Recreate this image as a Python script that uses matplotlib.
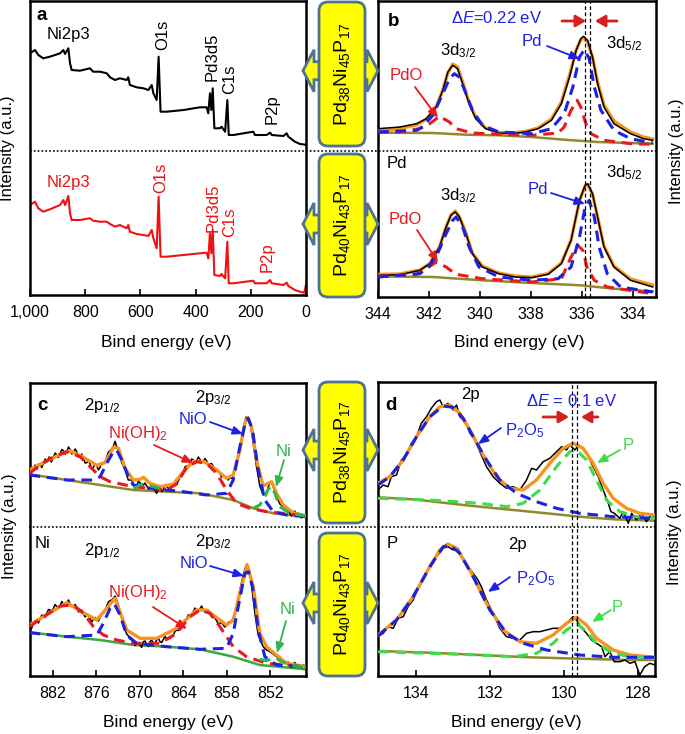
import numpy as np
import matplotlib
matplotlib.use('Agg')
import matplotlib.pyplot as plt
from matplotlib.patches import FancyBboxPatch, Polygon

plt.rcParams['font.family'] = ['Liberation Sans', 'DejaVu Sans']
plt.rcParams['mathtext.fontset'] = 'custom'
plt.rcParams['mathtext.rm'] = 'Liberation Sans'
plt.rcParams['mathtext.it'] = 'Liberation Sans:italic'
plt.rcParams['mathtext.bf'] = 'Liberation Sans:bold'

nan = np.nan

# ---- panel a: survey spectra (binding energy eV, intensity a.u.)
survey_e = [1000, 982, 970, 952, 928, 891, 879, 873, 861, 855, 849, 819, 783, 771, 746, 722, 710, 692,
            674, 650, 644, 638, 614, 589, 571, 559, 553, 541, 534, 527, 505, 444, 384, 360, 354, 348,
            343, 338, 332, 312, 306, 293, 285, 280, 263, 191, 185, 143, 130, 124, 82, 70, 64, 40, 22, 7, 0]
survey_top = [241.7, 245, 240, 236.7, 238.3, 241.7, 245, 241, 246.7, 231.7, 225, 224.3, 226.7, 223.3,
              223.3, 221.7, 217.7, 215, 216.7, 215, 217.7, 210, 207.7, 206.7, 205, 210, 201.7, 195,
              238.3, 183.3, 183.3, 185, 187.7, 187.7, 181.7, 201.7, 185, 206.7, 166.7, 166.7, 168.3,
              163.3, 195, 160, 160, 163.3, 160, 160, 162.3, 160, 159, 161.7, 158.3, 153.3, 151, 150.5, 150]
survey_bot = [90, 93.3, 86.7, 83.3, 85.7, 90, 95, 90, 99, 81.7, 75, 75, 76.7, 74.3, 73.3, 73.3, 71, 68.3,
              70, 66.7, 70, 63.3, 61, 60, 59, 65, 56.7, 46.7, 98.3, 38.3, 38.3, 40, 41.7, 42.3, 36.7,
              61.7, 41.7, 65, 20, 19, 21, 16.7, 53.3, 11.7, 11.7, 14.3, 11.7, 11.7, 15, 11.7, 10, 12.3,
              9, 5, 3.3, 2.3, 10]
survey_ticks = [1000, 800, 600, 400, 200, 0]
survey_ticklabels = ['1,000', '800', '600', '400', '200', '0']

# ---- panel b: Pd 3d
pd_top_e = [344.00, 343.14, 342.49, 342.10, 341.72, 341.46, 341.26, 341.07, 340.88, 340.68, 340.43,
            340.17, 339.78, 339.26, 338.75, 338.23, 337.72, 337.20, 336.81, 336.49, 336.23, 336.05,
            335.94, 335.78, 335.59, 335.39, 335.14, 334.75, 334.10, 333.59, 333.23]
pd_top_data = [168.3, 170, 173.3, 178.3, 190, 206.7, 225, 231.7, 228.3, 213.3, 193.3, 178.3, 168.3, 164,
               163.3, 165, 168.3, 176.7, 193.3, 220, 246.7, 258.3, 260.7, 256.7, 240, 213.3, 190, 173.3,
               163.3, 158.3, 156.7]
pd_top_fit = [166, 168.5, 172, 178, 190, 207, 224, 233, 230, 215, 195, 180, 169, 164.5, 164, 165.5, 169,
              178, 195, 222, 247, 257, 259, 255, 240, 215, 192, 176, 165, 160, 158]
pd_top_pd_e = [344.00, 342.49, 342.23, 341.85, 341.46, 341.20, 341.01, 340.81, 340.55, 340.30, 339.91,
               339.26, 337.97, 337.20, 336.70, 336.36, 336.10, 335.91, 335.72, 335.52, 335.26, 334.75,
               334.10, 333.23]
pd_top_pd = [165, 166.7, 170.7, 181.7, 203.3, 218.3, 223.3, 220, 203.3, 186.7, 171.7, 165, 163.3, 168.3,
             183.3, 210, 240, 247.3, 238.3, 210, 186.7, 166.7, 158.3, 154]
pd_top_pdo_e = [344.00, 343.14, 342.36, 341.97, 341.59, 341.20, 340.94, 340.30, 339.26, 337.97, 336.94,
                336.70, 336.43, 336.19, 336.05, 335.85, 335.65, 335.14, 334.10, 333.23]
pd_top_pdo = [165, 165, 168.3, 173.3, 180.7, 175, 168.3, 164, 162.7, 161.7, 164, 170, 186.7, 196.7, 190,
              173.3, 163.3, 156.7, 153.3, 152.7]
pd_top_bg_e = [344.00, 341.85, 340.55, 339.26, 337.97, 336.70, 335.39, 334.10, 333.23]
pd_top_bg = [164.3, 164, 162.3, 161.7, 160, 157.3, 155, 154, 153.3]

pd_bot_e = [344.00, 343.14, 342.36, 341.97, 341.59, 341.33, 341.14, 340.97, 340.81, 340.55, 340.30,
            339.91, 339.26, 338.62, 337.97, 337.33, 336.81, 336.43, 336.10, 335.88, 335.78, 335.59,
            335.39, 335.14, 334.75, 334.10, 333.23]
pd_bot_data = [21.7, 22.3, 26.7, 33.3, 50, 70, 81.7, 85, 80, 63.3, 43.3, 30, 23.3, 20, 19.3, 22.7, 33.3,
               56.7, 96.7, 111.7, 113.3, 103.3, 80, 50, 30, 16.7, 10]
pd_bot_fit = [22.5, 23, 27, 33.5, 50, 70, 82, 86, 80.5, 64, 44, 31, 24, 21, 20, 23.5, 34, 57, 96, 111,
              112.5, 103, 80, 51, 31, 18, 12]
pd_bot_pd_e = [344.00, 342.36, 342.10, 341.72, 341.33, 341.07, 340.94, 340.68, 340.43, 340.04, 339.26,
               337.97, 336.94, 336.43, 336.10, 335.88, 335.72, 335.52, 335.33, 335.01, 334.49, 333.23]
pd_bot_pd = [20, 23.3, 28.3, 40, 63.3, 76.7, 80, 70, 50, 30, 20, 16.7, 18.3, 30, 60, 90, 96.7, 80, 50,
             23.3, 10, 5]
pd_bot_pdo_e = [344.00, 342.49, 342.10, 341.72, 341.33, 340.94, 339.91, 337.97, 336.81, 336.43, 336.17,
                335.97, 335.81, 335.52, 335.01, 333.23]
pd_bot_pdo = [20.7, 22.7, 28.3, 35, 30, 22.7, 18.3, 15, 18.3, 40, 51.7, 46.7, 30, 16.7, 10, 3.3]
pd_bot_bg_e = [344.00, 341.85, 339.91, 337.97, 336.05, 334.75, 333.23]
pd_bot_bg = [20.7, 20, 16.7, 14, 11.7, 8.3, 5.7]
pd_ticks = [344, 342, 340, 338, 336, 334]
pd_shift_lines = [335.88, 335.67]

# ---- panel c: Ni 2p
ni_top_e = [885.2, 884.92, 884.65, 884.42, 884.19, 883.96, 883.73, 883.50, 883.27, 883.04, 882.81,
            882.5, 882.2, 881.90, 881.67, 881.44, 881.21, 880.98, 880.75, 880.52, 880.29, 880.06,
            879.83, 879.60, 879.37, 879.14, 878.91, 878.69, 878.46, 878.23, 878.00, 877.77, 877.54,
            877.31, 877.08, 876.85, 876.62, 876.39, 876.16, 875.93, 875.70, 875.47, 875.25, 875.02,
            874.79, 874.56, 874.33, 874.10, 873.87, 873.64, 873.41, 873.18, 872.95, 872.72, 872.49,
            872.26, 872.03, 871.81, 871.58, 871.35, 871.12, 870.89, 870.66, 870.43, 870.20, 869.97,
            869.74, 869.51, 869.28, 869.05, 868.82, 868.59, 868.37, 868.14, 867.91, 867.68, 867.45,
            867.22, 866.99, 866.76, 866.53, 866.30, 865.84, 865.38, 865.15, 864.92, 864.70, 864.47,
            864.24, 864.01, 863.78, 863.55, 863.32, 863.09, 862.86, 862.63, 862.40, 862.17, 861.94,
            861.71, 861.48, 861.26, 861.03, 860.80, 860.57, 860.34, 860.11, 859.88, 859.65, 859.42,
            859.19, 858.96, 858.73, 858.50, 858.27, 858.04, 857.81, 857.59, 857.36, 857.13, 856.67,
            856.21, 855.75, 855.38, 855.06, 854.74, 854.37, 853.92, 853.46, 853.00, 852.54, 852.08,
            851.62, 851.16, 850.70, 850.47, 850.24, 850.01, 849.79, 849.56, 849.33, 849.10, 848.87,
            848.64, 848.41, 848.18, 847.95, 847.72, 847.49, 847.13]
ni_top_data = [206, 203.5, 208.7, 211, 206.7, 212, 211, 208.5, 212.7, 217, 214.3, 219, 214, 218.7, 223,
               221, 218.5, 222, 226.5, 225.3, 221.5, 224.3, 229, 226.7, 222, 223.3, 227, 224.3, 219,
               220, 222, 217.7, 213, 213.3, 215.5, 212, 207.5, 208.7, 212, 210, 206, 208.7, 213.5,
               212.7, 214, 218.7, 224, 225.3, 227, 230, 234.7, 229.3, 227, 221, 213, 210, 207, 201,
               196, 196, 196, 192, 188, 190, 194.5, 193.3, 189.5, 191, 193, 190, 187, 188.7, 191,
               187.7, 185.5, 182.7, 186, 188.7, 184.5, 186, 190.5, 189.3, 187, 190, 194, 192.7, 195,
               198.7, 200, 204.3, 209, 210, 209.5, 212.7, 217, 216, 213, 215.3, 219, 216.7, 213, 214.3,
               217.5, 215.3, 211, 212, 212.5, 210, 206, 205.3, 205, 202.7, 199, 200, 199, 197.7, 196,
               198.7, 197.5, 201, 212.7, 229.3, 246, 258.7, 259.3, 251, 232.7, 209.3, 190, 181, 182.7,
               194.3, 190, 179.3, 172, 171, 167.7, 167.5, 164.3, 166, 162.7, 160, 162, 165, 160, 163,
               161, 158, 161.5, 159.3]
ni_top_fit_e = [885.2, 883.27, 881.44, 879.60, 877.77, 875.93, 874.79, 873.64, 872.95, 872.03, 870.89,
                869.97, 869.51, 868.59, 867.22, 865.38, 864.01, 862.63, 861.26, 859.88, 858.04, 857.13,
                856.21, 855.52, 855.15, 854.60, 853.92, 853.00, 852.31, 851.85, 851.16, 850.24, 848.87,
                847.13]
ni_top_fit = [206, 213.3, 220, 225.3, 218.7, 210.7, 213.3, 228.7, 227.7, 207.7, 196, 196.7, 198.7, 192.7,
              189.3, 192, 204.3, 214.3, 214.7, 208.7, 197.7, 201, 226, 252.7, 258.7, 249.3, 216, 190,
              192.7, 194.3, 182.7, 171, 163.3, 160]
ni_top_oh_e = [885.2, 883.73, 881.90, 880.06, 878.23, 876.85, 875.47, 874.10, 870.89, 866.30, 864.92,
               863.55, 862.17, 860.80, 859.42, 858.04, 856.67, 854.83, 852.54, 850.24, 847.13]
ni_top_oh = [202.7, 211, 219.3, 224.3, 219.3, 209.3, 199.3, 194.3, 189.3, 186, 192, 208.7, 214.3, 212.7,
             202.7, 186, 172.7, 167.7, 164.3, 162.7, 160]
ni_top_nio_e = [885.2, 880.06, 876.39, 875.47, 874.56, 873.64, 873.18, 872.49, 871.58, 870.89, 868.59,
                864.01, 860.80, 858.04, 857.13, 856.21, 855.38, 855.06, 854.47, 853.69, 852.77, 851.62,
                849.79, 847.13]
ni_top_nio = [201, 196, 196, 199.3, 212.7, 224.3, 226, 216, 199.3, 191, 187.7, 184.3, 181, 182.7, 196,
              229.3, 256, 257.7, 246, 206, 176, 164.3, 161, 159.3]
ni_top_ni_e = [870.89, 869.51, 868.14, 866.76, nan, 854.37, 853.46, 852.77, 852.31, 851.85, 851.39,
               850.70, 849.33, 847.13]
ni_top_ni = [187.7, 192, 189.3, 186.7, nan, 167.7, 171, 179.3, 186.7, 190, 182.7, 169.3, 162.7, 160]
ni_top_bg_e = [885.2, 880.06, 875.47, 870.89, 866.30, 861.71, 857.13, 854.37, 851.62, 847.13]
ni_top_bg = [201.7, 196, 191, 186, 184.3, 182.7, 176, 167.7, 162.7, 159.3]

ni_bot_e = [885.2, 884.92, 884.65, 884.42, 884.19, 883.96, 883.73, 883.50, 883.27, 883.04, 882.81,
            882.58, 882.36, 882.13, 881.90, 881.67, 881.44, 881.21, 880.98, 880.75, 880.52, 880.29,
            880.06, 879.83, 879.60, 879.37, 879.14, 878.91, 878.69, 878.46, 878.23, 878.00, 877.77,
            877.54, 877.31, 877.08, 876.85, 876.62, 876.39, 876.16, 875.93, 875.70, 875.47, 875.25,
            875.02, 874.79, 874.56, 874.33, 874.10, 873.87, 873.64, 873.41, 873.18, 872.95, 872.72,
            872.49, 872.26, 872.03, 871.81, 871.58, 871.35, 871.12, 870.89, 870.66, 870.43, 870.20,
            869.97, 869.74, 869.51, 869.28, 869.05, 868.82, 868.59, 868.37, 868.14, 867.91, 867.68,
            867.45, 867.22, 866.99, 866.76, 866.53, 866.30, 865.84, 865.38, 865.15, 864.92, 864.70,
            864.47, 864.24, 864.01, 863.78, 863.55, 863.32, 863.09, 862.86, 862.63, 862.40, 862.17,
            861.94, 861.71, 861.48, 861.26, 861.03, 860.80, 860.57, 860.34, 860.11, 859.88, 859.65,
            859.42, 859.19, 858.96, 858.73, 858.50, 858.27, 858.04, 857.81, 857.59, 857.36, 857.13,
            856.67, 856.21, 855.75, 855.38, 855.20, 854.83, 854.47, 854.14, 853.69, 853.00, 852.54,
            852.08, 851.62, 851.16, 850.70, 850.47, 850.24, 850.01, 849.79, 849.56, 849.33, 849.10,
            848.87, 848.64, 848.41, 848.18, 847.95, 847.72, 847.49, 847.13]
ni_bot_data = [49.3, 47.5, 52.7, 55.5, 54.3, 53, 57.7, 61, 60, 58.5, 62.7, 66.5, 66, 64, 67.7, 71.5,
               69.3, 68, 70.7, 74.5, 72, 70, 73.3, 76, 72, 69.5, 70, 71.5, 68, 64, 65.3, 66, 62.7, 59,
               61, 61, 57.7, 54, 56.7, 58.5, 56, 55, 58.7, 62, 62.7, 65, 70, 74, 75.3, 76, 77.7, 80,
               76, 71, 64, 57.7, 51, 46.7, 42, 40, 37, 36, 34, 30.5, 32.7, 33.5, 31, 28.5, 34.3, 35,
               31.7, 29.5, 34.3, 36, 32.7, 33, 36, 38, 34.3, 33.5, 36.7, 39.5, 37.7, 37.5, 41, 44.5,
               46, 45.5, 49.3, 53, 53.3, 55, 57.7, 61, 61, 62, 64.3, 68, 66, 65, 67.3, 70, 66, 64,
               65.3, 66, 62.7, 59.5, 58.7, 58, 55.3, 52, 52.7, 53.5, 51, 49, 51, 54, 52.7, 54, 57.7,
               69.3, 86, 101, 110, 112, 104.3, 82.7, 62.7, 41, 29.3, 26, 24.3, 22, 19.3, 16.7, 17.5,
               14.3, 15, 12.7, 14, 11, 9, 12, 13.5, 10, 11, 10.7, 8, 11, 10]
ni_bot_fit_e = [885.2, 880.06, 877.77, 875.93, 873.41, 871.81, 869.97, 867.68, 864.92, 862.17, 860.80,
                858.04, 857.13, 856.21, 855.20, 854.37, 853.46, 852.54, 851.16, 849.79, 847.13]
ni_bot_fit = [51, 73.3, 63.3, 56, 77.7, 46, 37.7, 37.7, 47.7, 66, 66, 51, 56, 82.7, 111, 89.3, 42.7,
              29.3, 21, 12.7, 9.3]
ni_bot_oh_e = [885.2, 883.27, 880.98, 879.14, 877.77, 876.39, 875.02, 873.18, 870.89, 867.22, 864.92,
               863.09, 861.71, 860.34, 858.96, 857.13, 855.29, 852.54, 847.13]
ni_bot_oh = [49.3, 59.3, 70, 71, 62.7, 49.3, 41, 36, 32.7, 32.7, 42.7, 59.3, 66, 62.7, 49.3, 29.3, 19.3,
             12.7, 9.3]
ni_bot_nio_e = [885.2, 880.06, 875.93, 875.02, 874.10, 873.50, 872.72, 871.81, 870.43, 866.30, 861.71,
                858.04, 857.13, 856.44, 855.52, 855.06, 854.47, 853.69, 852.77, 851.16, 847.13]
ni_bot_nio = [43.3, 39.3, 41, 52.7, 67.7, 72, 61, 41, 32.7, 29.3, 26.7, 27.7, 42.7, 69.3, 102.7, 104.3,
              89.3, 46, 19.3, 11, 9.3]
ni_bot_ni_e = [853.46, 852.54, 851.85, 851.16, 850.47, 849.33, 847.13]
ni_bot_ni = [16.7, 15.3, 17.3, 17.7, 14.3, 11, 8.7]
ni_bot_bg_e = [885.2, 880.06, 875.47, 870.89, 866.30, 861.71, 857.13, 853.46, 847.13]
ni_bot_bg = [43.7, 39.3, 36, 31, 29.3, 26.7, 19.3, 11, 6.7]
ni_ticks = [882, 876, 870, 864, 858, 852]

# ---- panel d: P 2p
p_top_e = [135.02, 134.88, 134.75, 134.66, 134.52, 134.39, 134.25, 134.12, 133.98, 133.85, 133.71,
           133.58, 133.44, 133.35, 133.26, 133.13, 132.99, 132.90, 132.81, 132.63, 132.54, 132.41,
           132.27, 132.09, 131.91, 131.73, 131.55, 131.37, 131.19, 131.01, 130.87, 130.74, 130.56,
           130.38, 130.20, 130.06, 129.93, 129.84, 129.70, 129.61, 129.48, 129.34, 129.21, 129.07,
           128.94, 128.80, 128.73, 128.64, 128.49, 128.40, 128.26, 128.17, 128.04, 127.91, 127.77,
           127.64, 127.54]
p_top_data = [186, 191, 189.3, 199.3, 201, 216, 221, 232.7, 239.3, 252.7, 259.3, 267.7, 274.3, 276,
              269.3, 272.7, 266, 271, 259.3, 252.7, 242.7, 237.7, 224.3, 209.3, 199.3, 192.7, 187.7,
              189.3, 186, 196, 207.7, 206, 214.3, 217.7, 224.3, 229.3, 226, 231, 226, 231, 227.7, 219.3,
              209.3, 199.3, 186, 172.7, 164.3, 162.7, 157.7, 164.3, 152.7, 162.7, 156, 162.7, 154.3,
              161, 159.3]
p_top_fit_e = [135.02, 134.70, 134.34, 133.98, 133.62, 133.35, 133.08, 132.81, 132.54, 132.18, 131.82,
               131.46, 131.10, 130.74, 130.38, 130.02, 129.75, 129.48, 129.21, 128.94, 128.67, 128.31,
               127.95, 127.54]
p_top_fit = [192.7, 199.3, 216, 239.3, 259.3, 269.3, 271, 262.7, 246, 221, 199.3, 187.7, 186, 196, 212.7,
             227.7, 232.7, 227.7, 212.7, 192.7, 177.7, 167.7, 162.7, 161]
p_top_ox_e = [135.02, 134.70, 134.34, 133.98, 133.62, 133.26, 132.99, 132.72, 132.45, 132.09, 131.73,
              131.28, 130.74, 130.20, 129.57, 128.67, 127.54]
p_top_ox = [191, 199.3, 216, 239.3, 259.3, 270, 268.7, 257.7, 239.3, 216, 196, 182.7, 174.3, 167.7,
            162.7, 159.3, 157.7]
p_top_p_e = [135.02, 133.62, 132.27, 131.55, 131.10, 130.65, 130.20, 129.84, 129.66, 129.39, 129.12,
             128.85, 128.49, 128.04, 127.54]
p_top_p = [177.7, 176, 172.7, 169.3, 172.7, 186, 209.3, 224.3, 226, 216, 196, 176, 164.3, 159.3, 157.7]
p_top_bg_e = [135.02, 134.07, 132.72, 131.37, 130.47, 129.57, 128.67, 127.54]
p_top_bg = [178.7, 176.7, 171, 166, 162.7, 159.3, 156.7, 155.3]

p_bot_e = [135.02, 134.88, 134.75, 134.61, 134.48, 134.34, 134.21, 134.07, 133.94, 133.80, 133.67,
           133.53, 133.40, 133.26, 133.13, 132.99, 132.86, 132.72, 132.59, 132.45, 132.32, 132.23,
           132.09, 131.91, 131.73, 131.55, 131.37, 131.19, 131.01, 130.83, 130.65, 130.47, 130.29,
           130.11, 129.93, 129.75, 129.66, 129.52, 129.39, 129.25, 129.12, 128.98, 128.89, 128.76,
           128.64, 128.49, 128.35, 128.22, 128.08, 127.95, 127.82, 127.68, 127.54]
p_bot_data = [39.3, 42.7, 49.3, 47.7, 57.7, 59.3, 69.3, 76, 87.7, 96, 106, 116, 121, 127.7, 129.3, 126,
              127.7, 116, 109.3, 102.7, 96, 89.3, 76, 62.7, 47.7, 39.3, 37.7, 36, 42.7, 44.3, 44.3, 46,
              47.7, 47.7, 52.7, 59.3, 56, 47.7, 42.7, 36, 32.7, 29.3, 19.3, 24.3, 14.3, 14.3, 16, 12.7,
              14.3, 1, 9.3, 12.7, 11]
p_bot_fit_e = [135.02, 134.52, 134.07, 133.62, 133.35, 133.13, 132.90, 132.54, 132.09, 131.64, 131.19,
               130.74, 130.29, 129.93, 129.66, 129.39, 129.12, 128.67, 128.22, 127.54]
p_bot_fit = [41, 56, 79.3, 109.3, 126, 132, 127.7, 106, 72.7, 46, 34.3, 32.7, 41, 52.7, 58.7, 51, 37.7,
             26, 21, 18.7]
p_bot_ox_e = [135.02, 134.52, 134.07, 133.62, 133.26, 133.08, 132.81, 132.45, 132.00, 131.55, 131.10,
              130.47, 129.57, 128.67, 127.54]
p_bot_ox = [40, 56, 79.3, 109.3, 129.3, 131, 122.7, 99.3, 66, 42.7, 32.7, 26, 21, 18.7, 18.7]
p_bot_p_e = [135.02, 133.62, 132.27, 131.37, 130.74, 130.29, 129.93, 129.66, 129.39, 129.12, 128.67,
             128.22, 127.54]
p_bot_p = [24.3, 22.7, 21, 19.3, 22.7, 32.7, 46, 52.7, 44.3, 32.7, 22.7, 19.3, 17.7]
p_bot_bg_e = [135.02, 133.62, 132.27, 130.92, 129.57, 128.22, 127.54]
p_bot_bg = [25, 23.3, 21, 18.7, 17.3, 16, 16]
p_ticks = [134, 132, 130, 128]
p_shift_lines = [129.77, 129.65]

samples = ['Pd$_{38}$Ni$_{45}$P$_{17}$', 'Pd$_{40}$Ni$_{43}$P$_{17}$']

# colours
BLACK = 'black'
ORANGE = '#f7941d'
BLUE = '#1c22e0'
RED = '#e8191f'
GREEN = '#2fb64a'
LGREEN = '#3ddc4a'
OLIVE = '#8f8a2a'
DASH = (0, (3.5, 2.2))

W, H = 685, 734
fig = plt.figure(figsize=(W / 100, H / 100), dpi=100)


def add_panel(l, t, r, b):
    return fig.add_axes([l / W, 1 - b / H, (r - l) / W, (b - t) / H])


axa = add_panel(30, 1, 306, 295)
axb = add_panel(378, 1, 656, 297)
axc = add_panel(29.5, 383, 306, 676)
axd = add_panel(378, 382, 655, 676)

for ax in (axa, axb, axc, axd):
    ax.set_yticks([])
    ax.tick_params(axis='x', direction='in', length=4, width=1.2, labelsize=11.5, pad=7)
    for s in ax.spines.values():
        s.set_linewidth(1.8)

# panel a
axa.plot(survey_e, survey_top, color='black', lw=1.5)
axa.plot(survey_e, survey_bot, color='#ee1111', lw=1.5)
axa.set_xlim(1000, 0)
axa.set_ylim(0, 294)
axa.set_xticks(survey_ticks)
axa.set_xticklabels(survey_ticklabels)


def comps(ax, e_data, data, e_fit, fit, parts, e_bg, bg, bg_color=OLIVE, data_top=False):
    ax.plot(e_bg, bg, color=bg_color, lw=1.8, zorder=2)
    ax.plot(e_data, data, color=BLACK, lw=1.1, zorder=4 if data_top else 3)
    ax.plot(e_fit, fit, color=ORANGE, lw=2.4, zorder=3 if data_top else 4)
    for e, y, c in parts:
        ax.plot(e, y, color=c, lw=2.2, ls=DASH, zorder=5)


# panel b
comps(axb, pd_top_e, pd_top_data, pd_top_e, pd_top_fit,
      [(pd_top_pdo_e, pd_top_pdo, RED), (pd_top_pd_e, pd_top_pd, BLUE)],
      pd_top_bg_e, pd_top_bg, data_top=True)
comps(axb, pd_bot_e, pd_bot_data, pd_bot_e, pd_bot_fit,
      [(pd_bot_pdo_e, pd_bot_pdo, RED), (pd_bot_pd_e, pd_bot_pd, BLUE)],
      pd_bot_bg_e, pd_bot_bg, data_top=True)
for e in pd_shift_lines:
    axb.axvline(e, color='black', lw=0.9, ls=(0, (3, 2)), zorder=6)
axb.set_xlim(343.95, 333.1)
axb.set_ylim(0, 296)
axb.set_xticks(pd_ticks)

# panel c
comps(axc, ni_top_e, ni_top_data, ni_top_fit_e, ni_top_fit,
      [(ni_top_oh_e, ni_top_oh, RED), (ni_top_nio_e, ni_top_nio, BLUE), (ni_top_ni_e, ni_top_ni, GREEN)],
      ni_top_bg_e, ni_top_bg)
comps(axc, ni_bot_e, ni_bot_data, ni_bot_fit_e, ni_bot_fit,
      [(ni_bot_oh_e, ni_bot_oh, RED), (ni_bot_nio_e, ni_bot_nio, BLUE), (ni_bot_ni_e, ni_bot_ni, GREEN)],
      ni_bot_bg_e, ni_bot_bg, bg_color='#3aa83a')
axc.set_xlim(885.2, 847.1)
axc.set_ylim(0, 293)
axc.set_xticks(ni_ticks)

# panel d
comps(axd, p_top_e, p_top_data, p_top_fit_e, p_top_fit,
      [(p_top_p_e, p_top_p, LGREEN), (p_top_ox_e, p_top_ox, BLUE)], p_top_bg_e, p_top_bg)
comps(axd, p_bot_e, p_bot_data, p_bot_fit_e, p_bot_fit,
      [(p_bot_p_e, p_bot_p, LGREEN), (p_bot_ox_e, p_bot_ox, BLUE)], p_bot_bg_e, p_bot_bg)
for e in p_shift_lines:
    axd.axvline(e, color='black', lw=0.9, ls=(0, (3, 2)), zorder=6)
axd.set_xlim(135.02, 127.54)
axd.set_ylim(0, 294)
axd.set_xticks(p_ticks)

# overlay in pixel coordinates for labels, boxes and arrows
ov = fig.add_axes([0, 0, 1, 1], facecolor='none')
ov.set_xlim(0, W)
ov.set_ylim(H, 0)
ov.axis('off')
ov.set_zorder(10)

FS = 12


def txt(x, y, s, color='black', rot=0, size=FS, weight='normal', va='center'):
    ov.text(x, y, s, color=color, rotation=rot, fontsize=size, fontweight=weight,
            ha='center', va=va)


def arrow(x0, y0, x1, y1, color, lw=1.3, head='-|>,head_length=0.6,head_width=0.25'):
    ov.annotate('', xy=(x1, y1), xytext=(x0, y0),
                arrowprops=dict(arrowstyle=head, color=color, lw=lw, shrinkA=0, shrinkB=0))


RED_HEAD = '-|>,head_length=0.6,head_width=0.35'

# separators
ov.plot([30, 656], [150.7, 150.7], color='black', lw=1.2, ls=(0, (1, 1.3)))
ov.plot([29, 656], [527, 527], color='black', lw=1.2, ls=(0, (1, 1.3)))

# sample boxes with double arrows
for (t, b), yc, s in [((2, 146), 70.7, samples[0]), ((154, 297), 224, samples[1]),
                      ((382, 523), 450, samples[0]), ((533, 676), 603, samples[1])]:
    x0, x1, hl, hw, sw = 303, 378, 11, 21, 9
    pts = [(x0, yc), (x0 + hl, yc - hw), (x0 + hl, yc - sw), (x1 - hl, yc - sw), (x1 - hl, yc - hw),
           (x1, yc), (x1 - hl, yc + hw), (x1 - hl, yc + sw), (x0 + hl, yc + sw), (x0 + hl, yc + hw)]
    ov.add_patch(Polygon(pts, closed=True, fc='#ffff00', ec='#4f7196', lw=2, zorder=1))
    ov.add_patch(FancyBboxPatch((319, t), 46, b - t, boxstyle='round,pad=0,rounding_size=9',
                                fc='#ffff00', ec='#4f7196', lw=2, zorder=2))
    ov.text(342, (t + b) / 2, s, rotation=90, ha='center', va='center', fontsize=14, zorder=3)

# axis labels
for x, y in [(166, 343), (519, 343), (168, 723), (516, 723)]:
    txt(x, y, 'Bind energy (eV)', size=12.5)
for x, y in [(8, 148), (10, 526), (677, 151), (675, 532)]:
    txt(x, y, 'Intensity (a.u.)', rot=90, size=12)

# panel letters
for x, y, s in [(42, 15, 'a'), (394, 22, 'b'), (42, 405, 'c'), (391, 405, 'd')]:
    txt(x, y, s, size=13.5, weight='bold')

# panel a labels
txt(68, 35, 'Ni2p3')
txt(163, 35, 'O1s', rot=90)
txt(212.5, 57, 'Pd3d5', rot=90)
txt(230, 79, 'C1s', rot=90)
txt(272, 109, 'P2p', rot=90)
txt(68, 182, 'Ni2p3', color='#ee1111')
txt(161, 178, 'O1s', color='#ee1111', rot=90)
txt(213, 208, 'Pd3d5', color='#ee1111', rot=90)
txt(230, 222, 'C1s', color='#ee1111', rot=90)
txt(267, 257, 'P2p', color='#ee1111', rot=90)

# panel b labels
txt(497, 18, 'Δ$\\mathit{E}$=0.22 eV', color=BLUE)
arrow(562, 21, 586, 21, '#d42020', lw=2, head=RED_HEAD)
arrow(617, 21, 595, 21, '#d42020', lw=2, head=RED_HEAD)
txt(458, 55, '3d$_{3/2}$', va='baseline')
txt(624, 48, '3d$_{5/2}$', va='baseline')
txt(532, 42, 'Pd', color=BLUE)
arrow(547, 46, 580, 59, BLUE)
txt(406, 75, 'PdO', color=RED)
arrow(415, 87, 438, 118, RED)
txt(397, 164, 'Pd')
txt(458, 200, '3d$_{3/2}$', va='baseline')
txt(624, 177, '3d$_{5/2}$', va='baseline')
txt(538, 189, 'Pd', color=BLUE)
arrow(551, 193, 585, 204, BLUE)
txt(405, 219, 'PdO', color=RED)
arrow(417, 230, 438, 262, RED)

# panel c labels
txt(102, 410, '2p$_{1/2}$', va='baseline')
txt(213, 402, '2p$_{3/2}$', va='baseline')
txt(193, 419, 'NiO', color=BLUE)
arrow(210, 422, 243, 434, BLUE)
txt(138, 438, 'Ni(OH)$_2$', color=RED, va='baseline')
arrow(154, 445, 193, 463, RED)
txt(284, 452, 'Ni', color=GREEN)
arrow(284, 460, 276, 487, GREEN)
txt(43, 544, 'Ni')
txt(102, 555, '2p$_{1/2}$', va='baseline')
txt(213, 546, '2p$_{3/2}$', va='baseline')
txt(194, 564, 'NiO', color=BLUE)
arrow(210, 566, 244, 576, BLUE)
txt(138, 597, 'Ni(OH)$_2$', color=RED, va='baseline')
arrow(153, 607, 187, 629, RED)
txt(288, 610, 'Ni', color=GREEN)
arrow(286, 621, 277, 653, GREEN)

# panel d labels
txt(470, 394, '2p')
txt(572, 401, 'Δ$\\mathit{E}$ = 0.1 eV', color=BLUE)
arrow(543, 417, 569, 417, '#d42020', lw=2, head=RED_HEAD)
arrow(598, 417, 581, 417, '#d42020', lw=2, head=RED_HEAD)
txt(525, 435, 'P$_2$O$_5$', color=BLUE, va='baseline')
arrow(501, 428, 478, 444, BLUE)
txt(628, 446, 'P', color=LGREEN)
arrow(620, 450, 597, 463, LGREEN)
txt(392, 543, 'P')
txt(517, 545, '2p')
txt(536, 583, 'P$_2$O$_5$', color=BLUE, va='baseline')
arrow(510, 577, 488, 592, BLUE)
txt(617, 607, 'P', color=LGREEN)
arrow(611, 610, 592, 622, LGREEN)

fig.savefig('out.png', dpi=100)
